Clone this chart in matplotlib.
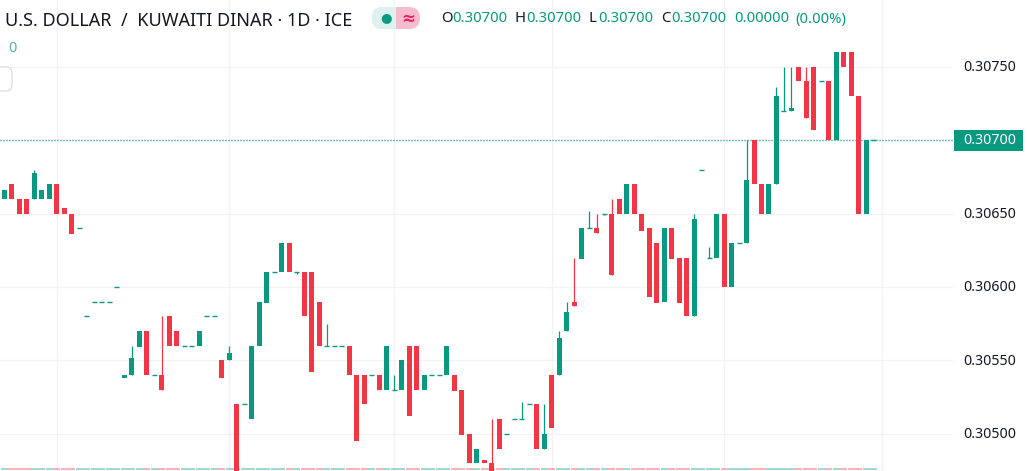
import matplotlib
matplotlib.use("Agg")
import matplotlib.pyplot as plt
from matplotlib.patches import FancyBboxPatch, Rectangle

opens = [30660,30670,30660,30660,30660,30660,30660,30670,30654,30650,30640,30580,30590,30590,30590,30600,
 30538,30540,30559,30570,30540,30540,30580,30570,30560,30560,30560,30580,30580,30550,30550,30520,30520,30510,30560,30589,30610,30610,30630,30610,
 30610,30610,30590,30560,30560,30560,30560,30540,30540,30540,30540,30530,30530,30530,30560,30560,30530,30540,30540,30540,
 30540,30530,30500,30480,30482,30480,30510,30500,30510,30510,30520,30520,30490,30540,30540,30570,30590,30619,30640,30640,
 30650,30650,30660,30650,30670,30650,30640,30630,30590,30640,30620,30620,30580,30680,30620,30620,30650,30600,30630,30630,
 30700,30670,30650,30670,30720,30720,30750,30740,30750,30740,30740,30700,30760,30760,30730,30650,30700]
closes = [30666,30660,30650,30650,30678,30666,30670,30650,30650,30636,30640,30580,30590,30590,30590,30600,
 30540,30552,30570,30540,30540,30530,30560,30560,30560,30560,30570,30580,30580,30538,30555,30475,30520,30560,30590,30610,30610,30630,30610,30610,
 30580,30542,30560,30560,30560,30560,30540,30495,30520,30540,30530,30560,30530,30550,30512,30530,30540,30540,30540,30560,
 30529,30499,30480,30490,30480,30475,30490,30500,30510,30510,30520,30490,30500,30504,30565,30583,30587,30640,30640,30637,
 30650,30608,30650,30670,30650,30638,30593,30589,30640,30619,30589,30580,30646,30680,30620,30650,30600,30630,30630,30673,
 30670,30650,30670,30730,30720,30722,30740,30715,30707,30740,30700,30760,30750,30730,30650,30700,30700]
wick_highs = {4:30680,17:30560,21:30580,30:30560,43:30575,52:30540,65:30510,69:30522,72:30520,74:30570,75:30590,
 76:30620,78:30652,79:30650,81:30660,92:30650,94:30627,99:30700,103:30736,104:30750,105:30750,107:30750}
wick_lows = {39:30609,80:30649}

ohlc_labels = ["O", "H", "L", "C"]
ohlc_value = "0.30700"
change_value = "0.00000"
change_pct = "(0.00%)"
title = "U.S. DOLLAR  /  KUWAITI DINAR · 1D · ICE"
y_ticks = [30500, 30550, 30600, 30650, 30700, 30750]
x_grid = [7.0, 30.0, 52.0, 73.0, 96.0, 117.1]
last_price = 30700
UNIT = 1e-5

GREEN = "#089981"
RED = "#F23645"
GRID = "#F2F3F5"
INK = "#131722"
W, H = 1027, 471
plt.rcParams["font.family"] = "Noto Sans"

fig = plt.figure(figsize=(W/100, H/100), dpi=100)
ax = fig.add_axes([0, 0, 953/W, 1])
ax.set_xlim(-0.6, 126.55)
ax.set_ylim(30474.7*UNIT, 30795.5*UNIT)
ax.axis("off")

for v in y_ticks:
    ax.axhline(v*UNIT, color=GRID, lw=0.9, zorder=1)
for v in x_grid:
    ax.axvline(v, color=GRID, lw=0.9, zorder=1)
ax.axhline(last_price*UNIT, color=GREEN, lw=1.0, ls=(0, (0.72, 1.44)), zorder=2)

BW = 0.667
VOL_LEVEL = 30476.3
for i, (o, c) in enumerate(zip(opens, closes)):
    col = RED if c < o else GREEN
    ax.hlines(VOL_LEVEL*UNIT, i-0.47, i+0.47, color=col, alpha=0.45, lw=1.2, zorder=2)
    hi = wick_highs.get(i, max(o, c))
    lo = wick_lows.get(i, min(o, c))
    if hi > max(o, c) or lo < min(o, c):
        ax.vlines(i, lo*UNIT, hi*UNIT, color=col, lw=0.9, zorder=3)
    if o == c:
        ax.hlines(o*UNIT, i-BW/2, i+BW/2, color=col, lw=1.0, zorder=4)
    else:
        ax.bar(i, abs(c-o)*UNIT, bottom=min(o, c)*UNIT, width=BW, color=col, lw=0, zorder=4)

def T(x, y, s, **kw):
    kw.setdefault("va", "center")
    kw.setdefault("ha", "left")
    return fig.text(x/W, 1-y/H, s, **kw)

for v in y_ticks:
    if v != last_price:
        y = 141.0 + (last_price-v)*1.468
        T(963, y, f"{v*UNIT:.5f}", fontsize=10.2, color=INK)

fig.add_artist(Rectangle((954/W, 1-151/H), 69/W, 21/H, transform=fig.transFigure, color=GREEN, lw=0))
T(963, 141, f"{last_price*UNIT:.5f}", fontsize=10.2, color="white", fontweight="bold")

T(5, 20.5, title, fontsize=13.0, color=INK)
T(8, 48, "0", fontsize=10.4, color="#4DB6A5")

fig.add_artist(FancyBboxPatch((-14/W, 1-91/H), 26/W, 24/H, boxstyle="round,pad=0,rounding_size=0.006",
    transform=fig.transFigure, fc="white", ec="#D6D8E0", lw=0.8, mutation_aspect=2.2))

# status pill
fig.add_artist(FancyBboxPatch((372/W, 1-29/H), 48/W, 22/H, boxstyle="round,pad=0,rounding_size=0.0107",
    transform=fig.transFigure, fc="#F7BBD0", ec="none", mutation_aspect=2.18))
clip = Rectangle((372/W, 1-29/H), 24/W, 22/H, transform=fig.transFigure)
left = FancyBboxPatch((372/W, 1-29/H), 48/W, 22/H, boxstyle="round,pad=0,rounding_size=0.0107",
    transform=fig.transFigure, fc="#DDF2EE", ec="none", mutation_aspect=2.18)
fig.add_artist(left)
left.set_clip_path(clip)
T(386, 18, "●", fontsize=9.5, color=GREEN, ha="center", family="DejaVu Sans")
T(408, 18.5, "≈", fontsize=12, color="#E91E63", ha="center", family="DejaVu Sans", fontweight="bold")

OHLC_FS = 10.7
for lx, vx, lab in zip([441, 515, 589, 661], [452, 526, 598, 671], ohlc_labels):
    T(lx, 19, lab, fontsize=OHLC_FS, color=INK)
    T(vx, 19, ohlc_value, fontsize=OHLC_FS, color=GREEN)
T(734, 19, change_value, fontsize=OHLC_FS, color=GREEN)
T(795, 19, change_pct, fontsize=OHLC_FS, color=GREEN)

fig.savefig("out.png", dpi=100)
